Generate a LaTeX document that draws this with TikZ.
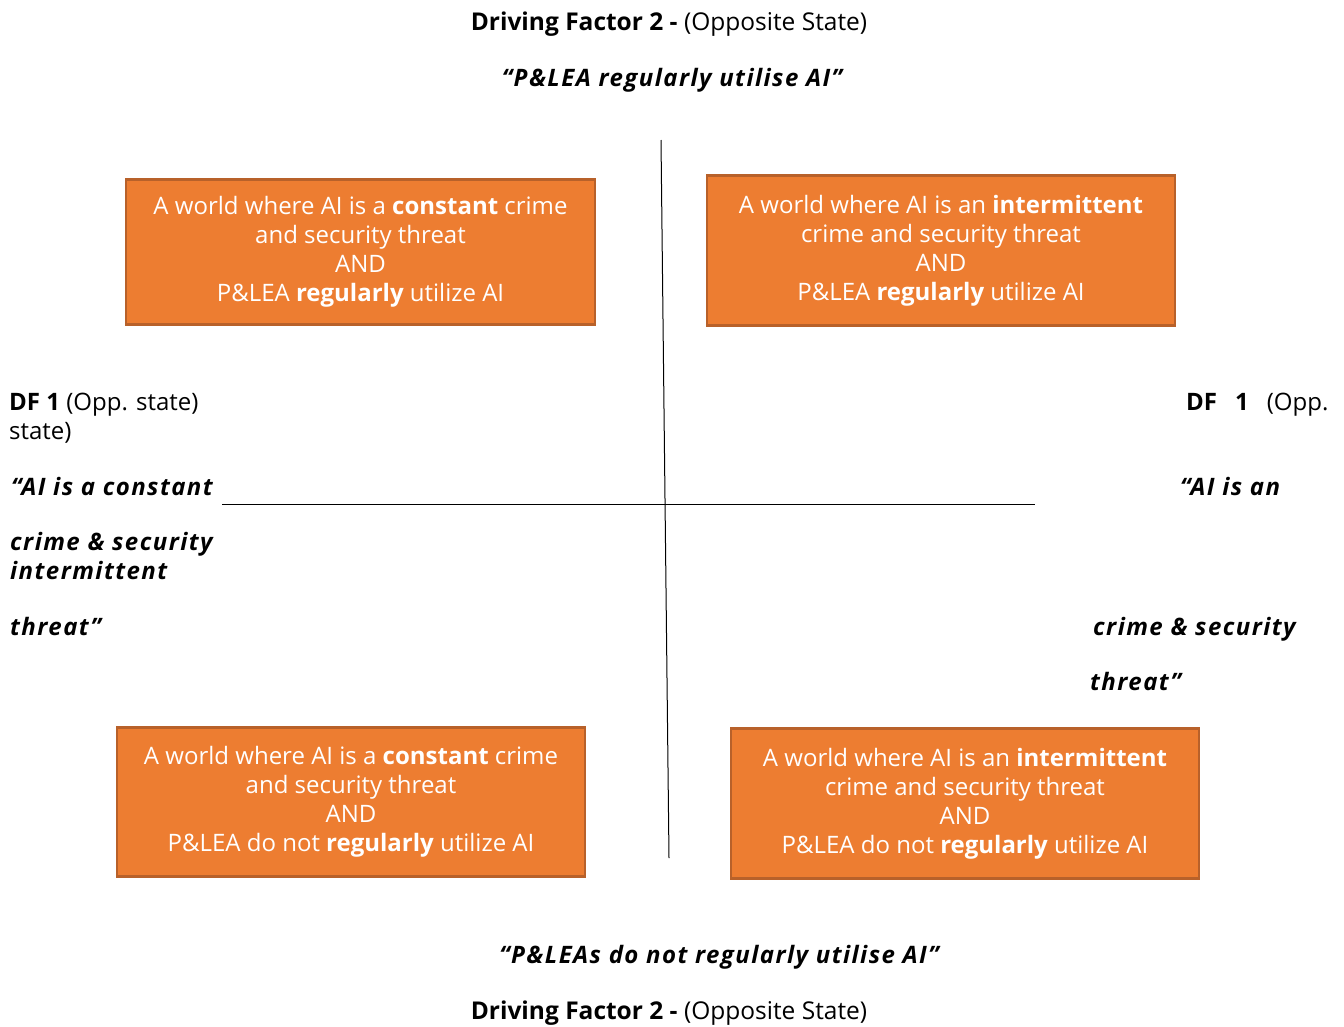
\documentclass[tikz,border=0pt]{standalone}
\usepackage{fontspec}
\setmainfont{Open Sans}
\newfontfamily\quotefont[LetterSpace=6]{Open Sans}
\definecolor{boxfill}{HTML}{ED7D31}
\definecolor{boxline}{HTML}{B8612A}
\newcommand{\qt}[1]{{\quotefont\bfseries\itshape #1}}
\begin{document}
\begin{tikzpicture}[x=1pt,y=-1pt,
  txt/.style={inner sep=0pt, font=\fontsize{24}{29}\selectfont},
  head/.style={inner sep=0pt, font=\fontsize{24.5}{29}\selectfont},
  quad/.style={draw=boxline, line width=2.5pt, fill=boxfill, text=white,
    align=center, inner sep=0pt, font=\fontsize{24}{29}\selectfont},
  axis/.style={line width=1pt, black}]
\useasboundingbox (0,0) rectangle (1344,1026);

% quadrant boxes
\node[quad, minimum width=469pt, minimum height=145pt] (tl) at (360.5,252)
  {A world where AI is a \textbf{constant} crime\\and security threat\\AND\\P\&LEA \textbf{regularly} utilize AI};
\node[quad, minimum width=468pt, minimum height=150pt] (tr) at (941,250.5)
  {A world where AI is an \textbf{intermittent}\\crime and security threat\\AND\\P\&LEA \textbf{regularly} utilize AI};
\node[quad, minimum width=468pt, minimum height=149pt] (bl) at (351,802)
  {A world where AI is a \textbf{constant} crime\\and security threat\\AND\\P\&LEA do not \textbf{regularly} utilize AI};
\node[quad, minimum width=468pt, minimum height=150pt] (br) at (965,803.5)
  {A world where AI is an \textbf{intermittent}\\crime and security threat\\AND\\P\&LEA do not \textbf{regularly} utilize AI};

% axes
\coordinate (vtop) at (661,140);
\coordinate (vbot) at (669,858);
\coordinate (hl) at (222,504);
\coordinate (hr) at (1035,504);
\draw[axis] (vtop) -- (vbot);
\draw[axis] (hl) -- (hr);

% top labels
\node[head, anchor=base] (df2top) at (669,30) {\textbf{Driving Factor 2 -} (Opposite State)};
\node[txt, anchor=base] (qtop) at (672,86) {\qt{“P\&LEA regularly utilise AI”}};

% bottom labels
\node[txt, anchor=base] (qbot) at (719,963) {\qt{“P\&LEAs do not regularly utilise AI”}};
\node[head, anchor=base] (df2bot) at (669,1019) {\textbf{Driving Factor 2 -} (Opposite State)};

% left labels
\node[txt, anchor=base west] (l1) at (9,410) {\textbf{DF 1} (Opp. state)};
\node[txt, anchor=base west] (l2) at (9,439) {state)};
\node[txt, anchor=base west] (l3) at (11,495) {\qt{“AI is a constant}};
\node[txt, anchor=base west] (l4) at (10,550) {\qt{crime \& security}};
\node[txt, anchor=base west] (l5) at (10,579) {\qt{intermittent}};
\node[txt, anchor=base west] (l6) at (10,635) {\qt{threat”}};

% right labels
\node[txt, anchor=base west] (r1) at (1186,410) {\textbf{DF\hspace{18pt}1}\hspace{18pt}(Opp.};
\node[txt, anchor=base west] (r2) at (1180,495) {\qt{“AI is an}};
\node[txt, anchor=base west] (r3) at (1093,635) {\qt{crime \& security}};
\node[txt, anchor=base west] (r4) at (1090,690) {\qt{threat”}};
\end{tikzpicture}
\end{document}
